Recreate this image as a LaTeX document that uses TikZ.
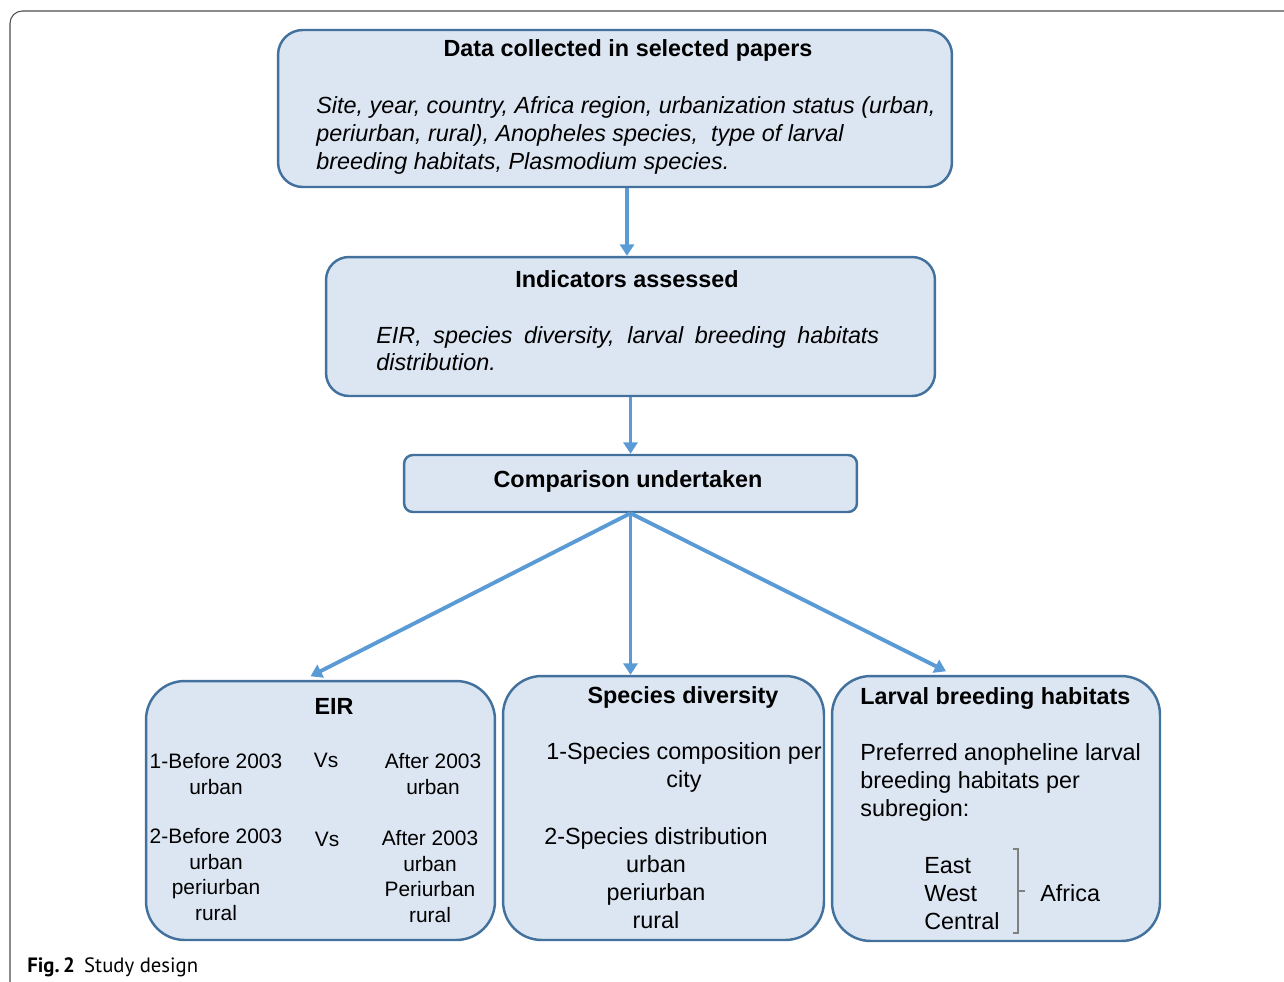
\documentclass[tikz,border=0pt]{standalone}
\usepackage{fontspec}
\setmainfont{Liberation Sans}
\newfontfamily\capfont{PT Sans}
\usetikzlibrary{arrows.meta}

\definecolor{boxfill}{HTML}{DCE6F2}
\definecolor{boxline}{HTML}{41719C}
\definecolor{flowblue}{HTML}{5B9BD5}
\definecolor{framegray}{HTML}{4D4D4D}

\begin{document}
\begin{tikzpicture}[
  x=0.02cm,
  y=-0.02cm,
  font=\fontsize{13.3}{15.9}\selectfont,
  stage/.style={draw=boxline,line width=1.4pt,fill=boxfill,inner sep=0pt},
  flow/.style={draw=flowblue,line width=2.2pt,-{Triangle[length=6.5pt,width=8pt]}},
  head/.style={font=\fontsize{13.3}{15.9}\selectfont\bfseries,inner sep=0pt},
  body/.style={inner sep=0pt,align=center},
  tight/.style={font=\fontsize{11.9}{14.5}\selectfont}
]
\useasboundingbox (0,0) rectangle (1284,981);

% journal frame and caption
\draw[framegray,line width=.6pt,rounded corners=7pt] (1290,11) -- (10,11) -- (10,990);
\node[anchor=base west,inner sep=0pt,font=\capfont\fontsize{11.8}{14}\selectfont] (caption) at (27,972)
  {\textbf{Fig.\,2}\hspace{0.45em}Study design};

% boxes
\node[stage,rounded corners=14pt,minimum width=13.48cm,minimum height=3.14cm] (data) at (615,108.5) {};
\node[stage,rounded corners=13pt,minimum width=12.18cm,minimum height=2.78cm] (ind) at (630.5,326.5) {};
\node[stage,rounded corners=5pt,minimum width=9.06cm,minimum height=1.14cm] (cmp) at (630.5,483.5) {};
\node[stage,rounded corners=22pt,minimum width=6.98cm,minimum height=5.18cm] (eir) at (320.5,810.5) {};
\node[stage,rounded corners=22pt,minimum width=6.42cm,minimum height=5.28cm] (spe) at (663.5,808) {};
\node[stage,rounded corners=22pt,minimum width=6.56cm,minimum height=5.30cm] (lar) at (996,808.5) {};

% connectors
\draw[flow] ([xshift=-2pt]data.south -| ind.north) -- ([xshift=-2pt]ind.north);
\draw[flow] (ind.south) -- (cmp.north);
\draw[flow] (cmp.south) -- ([xshift=-0.2cm,yshift=2pt]eir.north);
\draw[flow] (cmp.south) -- (cmp.south |- spe.north);
\draw[flow] (cmp.south) -- ([xshift=-1cm,yshift=2pt]lar.north);

% data collected
\node[head,anchor=base] (dataT) at (628,56) {Data collected in selected papers};
\node[body,anchor=base west,align=left,font=\fontsize{13.3}{15.9}\selectfont\itshape] (dataB) at (316,169)
  {Site, year, country, Africa region, urbanization status (urban,\\
   periurban, rural), Anopheles species,\ \ type of larval\\
   breeding habitats, Plasmodium species.};

% indicators
\node[head,anchor=base] (indT) at (627,287) {Indicators assessed};
\node[body,anchor=base west,align=justify,text width=10.06cm,font=\fontsize{13.3}{15.9}\selectfont\itshape] (indB) at (376,343)
  {EIR, species diversity, larval breeding habitats \mbox{distribution.}};

% comparison
\node[head,anchor=base] (cmpT) at (628,487) {Comparison undertaken};

% EIR
\node[head,anchor=base] (eirT) at (334,714) {EIR};
\node[body,tight,anchor=base] (eirA) at (216,794) {1-Before 2003\\urban};
\node[body,tight,anchor=base] (eirVa) at (326,767) {Vs};
\node[body,tight,anchor=base] (eirB) at (433,794) {After 2003\\urban};
\node[body,tight,anchor=base] (eirC) at (216,920) {2-Before 2003\\urban\\periurban\\rural};
\node[body,tight,anchor=base] (eirVb) at (327,846) {Vs};
\node[body,tight,anchor=base] (eirD) at (430,922) {After 2003\\urban\\Periurban\\rural};

% species diversity
\node[head,anchor=base] (speT) at (683,703) {Species diversity};
\node[body,anchor=base] (speA) at (684,787) {1-Species composition per\\city};
\node[body,anchor=base] (speB) at (656,928) {2-Species distribution\\urban\\periurban\\rural};

% larval breeding habitats
\node[head,anchor=base west] (larT) at (860,704) {Larval breeding habitats};
\node[body,anchor=base west,align=left] (larA) at (860,816)
  {Preferred anopheline larval\\breeding habitats per\\subregion:};
\node[body,anchor=base west,align=left] (larB) at (924,929) {East\\West\\Central};
\node[body,anchor=base west] (larC) at (1040,901) {Africa};
\draw[gray,line width=.6pt] (1013,849) -- (1018,849) -- (1018,933) -- (1013,933);
\draw[gray,line width=.6pt] (1018,891) -- (1025,891);
\end{tikzpicture}
\end{document}
